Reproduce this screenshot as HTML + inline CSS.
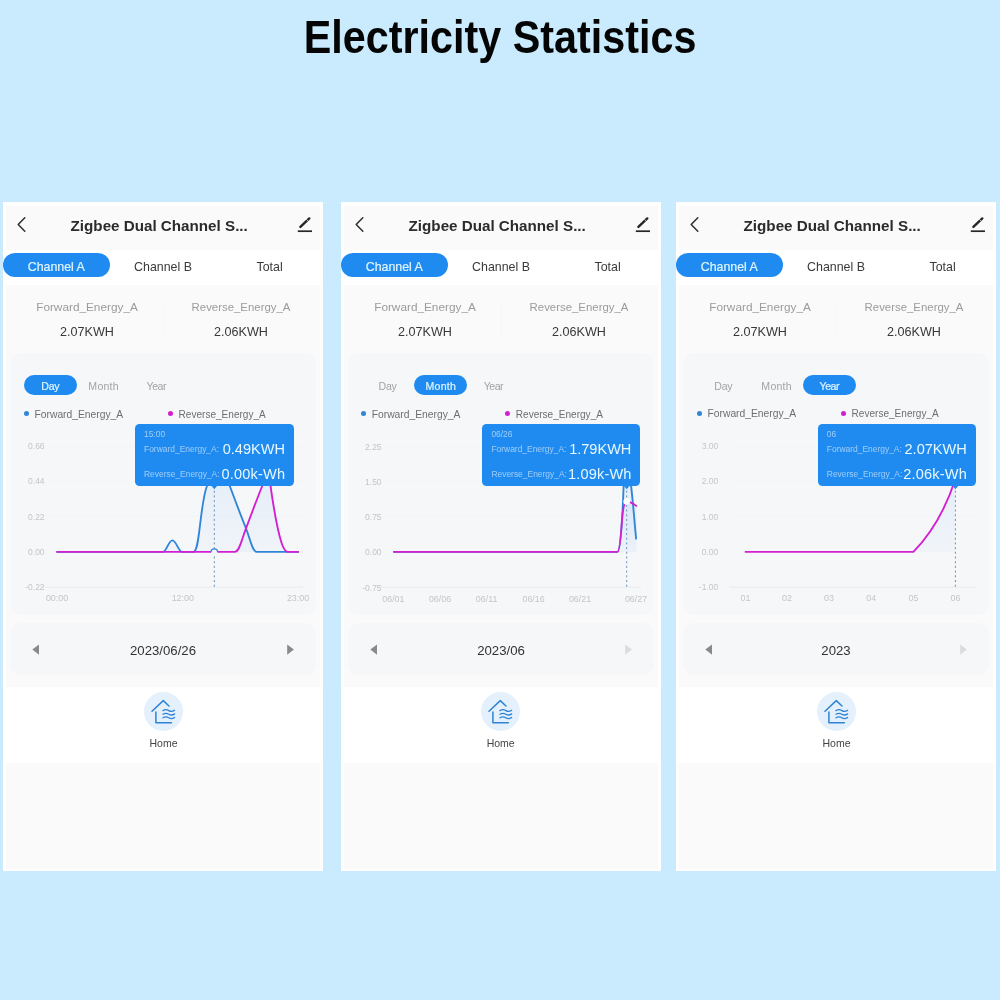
<!DOCTYPE html><html lang="en"><head><meta charset="utf-8"><title>Electricity Statistics</title><style>
*{margin:0;padding:0;box-sizing:border-box}
html,body{width:1000px;height:1000px;overflow:hidden}
body{background:#c9ebfd;font-family:"Liberation Sans",sans-serif;position:relative}
.h1{position:absolute;left:0;top:12px;width:1000px;height:52px;line-height:52px;text-align:center;font-weight:bold;font-size:45.3px;color:#050505;white-space:nowrap;transform:scaleX(.912);transform-origin:500.5px 0;letter-spacing:0}
.panel{position:absolute;top:202px;width:320px;height:669px;background:#fafafa;overflow:hidden;box-shadow:0 0 0 0 #fff}
.panel *{position:absolute;white-space:nowrap}
.hdr{left:0;top:0;width:320px;height:669px;border:solid #fefefe;border-width:4px 3px 2px 3px}
.title{left:0;top:11.5px;width:312.4px;height:24px;line-height:24px;text-align:center;font-weight:bold;font-size:15.2px;color:#2b2b2b}
.tabs{left:0;top:47.5px;width:320px;height:35.5px;background:#fff}
.tab{top:3px;height:24.5px;line-height:28.3px;width:106.6px;text-align:center;font-size:12.4px;color:#3a3a3a;border-radius:12.3px}
.tab.on{background:#1f8bf0;color:#dff5ff;-webkit-text-stroke:.2px #dff5ff}
.lbl{width:154px;height:14px;line-height:14px;text-align:center;font-size:11.8px;color:#9b9b9b;top:97.7px}
.val{width:154px;height:16px;line-height:16px;text-align:center;font-size:12.6px;color:#383838;top:122px}
.divd{left:160px;top:102px;width:1px;height:32px;background:#f6f6f6}
.card{left:7px;width:306px;background:#f6f7f9;border-radius:11px}
.chart{top:151px;height:262px}
.seg{top:173px;height:20px;line-height:22.4px;width:53px;text-align:center;font-size:10.6px;color:#a3a3a3;border-radius:10px}
.seg.on{background:#1f8bf0;color:#dff5ff;-webkit-text-stroke:.2px #dff5ff}
.dot{width:5px;height:5px;border-radius:50%;top:209.2px}
.leg{top:205.6px;height:14px;line-height:14px;font-size:10.3px;color:#6e6e6e}
.tip{top:222px;width:159px;height:62px;background:#1f8bf0;border-radius:4.5px}
.tip i{font-style:normal;left:9px;font-size:8.45px;color:rgba(255,255,255,.56);height:12px;line-height:12px}
.tip b{font-weight:normal;right:9px;font-size:14.55px;color:#e8f8ff;height:18px;line-height:18px}
.date{top:421px;height:52px}
.dtx{left:0;width:320px;top:439.5px;height:18px;line-height:18px;text-align:center;font-size:13.2px;color:#333}
.bot{left:0;top:485px;width:320px;height:76px;background:#fff}
.hc{left:141px;top:490.3px;width:39px;height:39px;border-radius:50%;background:#e4f0fb}
.hm{left:0;width:321px;top:534px;height:14px;line-height:14px;text-align:center;font-size:10.5px;color:#444}
svg{left:0;top:0;overflow:visible}
svg text{font-family:"Liberation Sans",sans-serif}
</style></head><body><h1 class="h1">Electricity Statistics</h1><div class="panel" style="left:3px"><div class="hdr"></div><svg width="320" height="60"><path d="M21.8 15.8 L15.2 22.5 L21.8 29.2" fill="none" stroke="#2e2e2e" stroke-width="1.5" stroke-linecap="round" stroke-linejoin="round"/><path d="M297.4 24.9 L306.3 16.4" fill="none" stroke="#262626" stroke-width="2.4" stroke-linecap="round"/><path d="M303.3 17.2 L305.4 19.4" fill="none" stroke="#f4f4f4" stroke-width=".7"/><path d="M294.8 29.2 H309" stroke="#262626" stroke-width="1.7" fill="none"/></svg><div class="title">Zigbee Dual Channel S...</div><div class="tabs"><div class="tab on" style="left:0.0px">Channel A</div><div class="tab" style="left:106.7px">Channel B</div><div class="tab" style="left:213.3px">Total</div></div><div class="lbl" style="left:7px">Forward_Energy_A</div><div class="val" style="left:7px">2.07KWH</div><div class="lbl" style="left:161px;font-size:11.4px">Reverse_Energy_A</div><div class="val" style="left:161px">2.06KWH</div><div class="divd"></div><div class="card chart"></div><div class="seg on" style="left:20.85px;letter-spacing:-0.3px">Day</div><div class="seg" style="left:74.1px;letter-spacing:0.2px">Month</div><div class="seg" style="left:126.75px;letter-spacing:-0.5px">Year</div><div class="dot" style="left:20.5px;margin-top:0px;background:#3085d6"></div><div class="leg" style="left:31.5px;margin-top:0px">Forward_Energy_A</div><div class="dot" style="left:165.1px;margin-top:0px;background:#d21fd2"></div><div class="leg" style="left:175.6px;margin-top:0px;font-size:10.05px">Reverse_Energy_A</div><svg width="320" height="669"><defs><linearGradient id="g0" x1="0" y1="0" x2="0" y2="1"><stop offset="0" stop-color="#4a9af0" stop-opacity=".10"/><stop offset="1" stop-color="#4a9af0" stop-opacity=".03"/></linearGradient></defs><path d="M46 244 H300" stroke="#f1f2f4" stroke-width="1" stroke-dasharray="2 2" fill="none"/><path d="M46 279.2 H300" stroke="#f1f2f4" stroke-width="1" stroke-dasharray="2 2" fill="none"/><path d="M46 314.5 H300" stroke="#f1f2f4" stroke-width="1" stroke-dasharray="2 2" fill="none"/><path d="M46 349.8 H300" stroke="#f1f2f4" stroke-width="1" stroke-dasharray="2 2" fill="none"/><path d="M38 385.2 H300" stroke="#e9e9eb" stroke-width="1" fill="none"/><text x="41.6" y="247" text-anchor="end" font-size="8.5" fill="#c5c5c5">0.66</text><text x="41.6" y="282.2" text-anchor="end" font-size="8.5" fill="#c5c5c5">0.44</text><text x="41.6" y="317.5" text-anchor="end" font-size="8.5" fill="#c5c5c5">0.22</text><text x="41.6" y="352.8" text-anchor="end" font-size="8.5" fill="#c5c5c5">0.00</text><text x="41.6" y="388.2" text-anchor="end" font-size="8.5" fill="#c5c5c5">-0.22</text><text x="54" y="399.2" text-anchor="middle" font-size="8.9" fill="#c5c5c5">00:00</text><text x="179.8" y="399.2" text-anchor="middle" font-size="8.9" fill="#c5c5c5">12:00</text><text x="295" y="399.2" text-anchor="middle" font-size="8.9" fill="#c5c5c5">23:00</text><path d="M53.4 349.9 H160 C163.5 349.9 165.5 338.3 169.4 338.3 C173.3 338.3 175.5 349.9 179 349.9 H190.2 C194.5 349.9 195.6 334 197.9 316 C200 299.5 201.6 290 203.8 284.5 C206 278 208.5 270 213 270 C219 270 223.5 275 227 284.5 C232 298 238 314 243 326.4 C247.5 338 249.5 349.9 253.6 349.9 H296 V349.9 H53.4Z" fill="url(#g0)" stroke="none"/><path d="M53.4 349.9 H231.8 C236.5 349.9 238.5 338 243 326.4 C248 313 254 297 259 284.5 C261.5 278 263.5 274 265 274 C266.5 274 267 279 267.6 284.5 C270.5 305 275 330 278.6 341 C280.8 347.5 282.2 349.9 284.8 349.9 H296 V349.9 H53.4Z" fill="url(#g0)" stroke="none"/><path d="M211.3 284 V385.5" stroke="#6a8fb8" stroke-width="1" stroke-dasharray="2 2.7" fill="none"/><path d="M53.4 349.9 H160 C163.5 349.9 165.5 338.3 169.4 338.3 C173.3 338.3 175.5 349.9 179 349.9 H190.2 C194.5 349.9 195.6 334 197.9 316 C200 299.5 201.6 290 203.8 284.5 C206 278 208.5 270 213 270 C219 270 223.5 275 227 284.5 C232 298 238 314 243 326.4 C247.5 338 249.5 349.9 253.6 349.9 H296" fill="none" stroke="#3085d6" stroke-width="1.85" stroke-linejoin="round"/><path d="M53.4 349.9 H231.8 C236.5 349.9 238.5 338 243 326.4 C248 313 254 297 259 284.5 C261.5 278 263.5 274 265 274 C266.5 274 267 279 267.6 284.5 C270.5 305 275 330 278.6 341 C280.8 347.5 282.2 349.9 284.8 349.9 H296" fill="none" stroke="#d21fd2" stroke-width="1.85" stroke-linejoin="round"/><circle cx="211.3" cy="350.2" r="3.3" fill="#f3f7fb" stroke="none"/><path d="M208 350.2 A3.3 3.3 0 0 1 214.6 350.2" fill="none" stroke="#3085d6" stroke-width="1.3"/><path d="M208.6 284 L211.3 287.2 L214 284Z" fill="#1f8bf0"/></svg><div class="tip" style="left:132px;width:159px"><i style="top:3.9px">15:00</i><i style="top:18.8px">Forward_Energy_A:</i><b style="top:16.1px">0.49KWH</b><i style="top:43.6px">Reverse_Energy_A:</i><b style="top:41px;letter-spacing:.18px;right:8.8px">0.00k-Wh</b></div><div class="card date"></div><svg width="320" height="669"><path d="M36 442.5 L29.3 447.6 L36 452.7Z" fill="#8a8a8a"/><path d="M284.2 442.5 L290.9 447.6 L284.2 452.7Z" fill="#8a8a8a"/></svg><div class="dtx">2023/06/26</div><div class="bot"></div><div class="hc" style="margin-left:0px"></div><svg width="320" height="669" fill="none" stroke="#2f84d4" stroke-linecap="round" stroke-linejoin="round" style="margin-left:0px"><path d="M149 509.2 L160.3 498.6 L166 504" stroke-width="1.5"/><path d="M152.9 510 V520.8 H168.4" stroke-width="1.5"/><path d="M160 508.6 q2.9 -1.8 5.8 0 t5.8 -0.3" stroke-width="1.3"/><path d="M160 512.2 q2.9 -1.8 5.8 0 t5.8 -0.3" stroke-width="1.3"/><path d="M160 515.8 q2.9 -1.8 5.8 0 t5.8 -0.3" stroke-width="1.3"/></svg><div class="hm" style="margin-left:0px">Home</div></div><div class="panel" style="left:341px"><div class="hdr"></div><svg width="320" height="60"><path d="M21.8 15.8 L15.2 22.5 L21.8 29.2" fill="none" stroke="#2e2e2e" stroke-width="1.5" stroke-linecap="round" stroke-linejoin="round"/><path d="M297.4 24.9 L306.3 16.4" fill="none" stroke="#262626" stroke-width="2.4" stroke-linecap="round"/><path d="M303.3 17.2 L305.4 19.4" fill="none" stroke="#f4f4f4" stroke-width=".7"/><path d="M294.8 29.2 H309" stroke="#262626" stroke-width="1.7" fill="none"/></svg><div class="title">Zigbee Dual Channel S...</div><div class="tabs"><div class="tab on" style="left:0.0px">Channel A</div><div class="tab" style="left:106.7px">Channel B</div><div class="tab" style="left:213.3px">Total</div></div><div class="lbl" style="left:7px">Forward_Energy_A</div><div class="val" style="left:7px">2.07KWH</div><div class="lbl" style="left:161px;font-size:11.4px">Reverse_Energy_A</div><div class="val" style="left:161px">2.06KWH</div><div class="divd"></div><div class="card chart"></div><div class="seg" style="left:20.05px;letter-spacing:-0.3px">Day</div><div class="seg on" style="left:73.3px;letter-spacing:0.2px">Month</div><div class="seg" style="left:125.95px;letter-spacing:-0.5px">Year</div><div class="dot" style="left:19.7px;margin-top:0px;background:#3085d6"></div><div class="leg" style="left:30.7px;margin-top:0px">Forward_Energy_A</div><div class="dot" style="left:164.3px;margin-top:0px;background:#d21fd2"></div><div class="leg" style="left:174.8px;margin-top:0px;font-size:10.05px">Reverse_Energy_A</div><svg width="320" height="669"><defs><linearGradient id="g1" x1="0" y1="0" x2="0" y2="1"><stop offset="0" stop-color="#4a9af0" stop-opacity=".10"/><stop offset="1" stop-color="#4a9af0" stop-opacity=".03"/></linearGradient></defs><path d="M44.4 244 H300" stroke="#f1f2f4" stroke-width="1" stroke-dasharray="2 2" fill="none"/><path d="M44.4 279.2 H300" stroke="#f1f2f4" stroke-width="1" stroke-dasharray="2 2" fill="none"/><path d="M44.4 314.5 H300" stroke="#f1f2f4" stroke-width="1" stroke-dasharray="2 2" fill="none"/><path d="M44.4 349.8 H300" stroke="#f1f2f4" stroke-width="1" stroke-dasharray="2 2" fill="none"/><path d="M36.4 385.2 H300" stroke="#e9e9eb" stroke-width="1" fill="none"/><text x="40.6" y="247.5" text-anchor="end" font-size="8.5" fill="#c5c5c5">2.25</text><text x="40.6" y="282.7" text-anchor="end" font-size="8.5" fill="#c5c5c5">1.50</text><text x="40.6" y="318" text-anchor="end" font-size="8.5" fill="#c5c5c5">0.75</text><text x="40.6" y="353.3" text-anchor="end" font-size="8.5" fill="#c5c5c5">0.00</text><text x="40.6" y="388.7" text-anchor="end" font-size="8.5" fill="#c5c5c5">-0.75</text><text x="52.4" y="399.7" text-anchor="middle" font-size="8.9" fill="#c5c5c5">06/01</text><text x="99" y="399.7" text-anchor="middle" font-size="8.9" fill="#c5c5c5">06/06</text><text x="145.6" y="399.7" text-anchor="middle" font-size="8.9" fill="#c5c5c5">06/11</text><text x="192.6" y="399.7" text-anchor="middle" font-size="8.9" fill="#c5c5c5">06/16</text><text x="239" y="399.7" text-anchor="middle" font-size="8.9" fill="#c5c5c5">06/21</text><text x="295" y="399.7" text-anchor="middle" font-size="8.9" fill="#c5c5c5">06/27</text><path d="M52.3 349.9 H276.4 C278.6 349.9 279.9 335 281 318 C281.8 306 282.2 296 282.6 284.5 C283.2 274 284.3 266 285.7 266 C290 266 292.5 312 295.2 337.3 V349.9 H52.3Z" fill="url(#g1)" stroke="none"/><path d="M52.3 349.9 H276.4 C278.6 349.9 279.9 335 281 318 C281.8 307 283.3 300 285.7 299.6 C289 299.6 292.5 301.6 295.9 304.4 V349.9 H52.3Z" fill="url(#g1)" stroke="none"/><path d="M285.7 284 V385.5" stroke="#6a8fb8" stroke-width="1" stroke-dasharray="2 2.7" fill="none"/><path d="M52.3 349.9 H276.4 C278.6 349.9 279.9 335 281 318 C281.8 306 282.2 296 282.6 284.5 C283.2 274 284.3 266 285.7 266 C290 266 292.5 312 295.2 337.3" fill="none" stroke="#3085d6" stroke-width="1.85" stroke-linejoin="round"/><path d="M52.3 349.9 H276.4 C278.6 349.9 279.9 335 281 318 C281.8 307 283.3 300 285.7 299.6 C289 299.6 292.5 301.6 295.9 304.4" fill="none" stroke="#d21fd2" stroke-width="1.85" stroke-linejoin="round"/><circle cx="285.7" cy="299.5" r="3.3" fill="#fbfdff" stroke="none"/><path d="M283 284 L285.7 287.2 L288.4 284Z" fill="#1f8bf0"/></svg><div class="tip" style="left:141.4px;width:158px"><i style="top:3.9px">06/26</i><i style="top:18.8px">Forward_Energy_A:</i><b style="top:16.1px">1.79KWH</b><i style="top:43.6px">Reverse_Energy_A:</i><b style="top:41px;letter-spacing:.18px;right:8.8px">1.09k-Wh</b></div><div class="card date"></div><svg width="320" height="669"><path d="M36 442.5 L29.3 447.6 L36 452.7Z" fill="#8a8a8a"/><path d="M284.2 442.5 L290.9 447.6 L284.2 452.7Z" fill="#dcdcdc"/></svg><div class="dtx">2023/06</div><div class="bot"></div><div class="hc" style="margin-left:-0.8px"></div><svg width="320" height="669" fill="none" stroke="#2f84d4" stroke-linecap="round" stroke-linejoin="round" style="margin-left:-0.8px"><path d="M149 509.2 L160.3 498.6 L166 504" stroke-width="1.5"/><path d="M152.9 510 V520.8 H168.4" stroke-width="1.5"/><path d="M160 508.6 q2.9 -1.8 5.8 0 t5.8 -0.3" stroke-width="1.3"/><path d="M160 512.2 q2.9 -1.8 5.8 0 t5.8 -0.3" stroke-width="1.3"/><path d="M160 515.8 q2.9 -1.8 5.8 0 t5.8 -0.3" stroke-width="1.3"/></svg><div class="hm" style="margin-left:-0.8px">Home</div></div><div class="panel" style="left:676px"><div class="hdr"></div><svg width="320" height="60"><path d="M21.8 15.8 L15.2 22.5 L21.8 29.2" fill="none" stroke="#2e2e2e" stroke-width="1.5" stroke-linecap="round" stroke-linejoin="round"/><path d="M297.4 24.9 L306.3 16.4" fill="none" stroke="#262626" stroke-width="2.4" stroke-linecap="round"/><path d="M303.3 17.2 L305.4 19.4" fill="none" stroke="#f4f4f4" stroke-width=".7"/><path d="M294.8 29.2 H309" stroke="#262626" stroke-width="1.7" fill="none"/></svg><div class="title">Zigbee Dual Channel S...</div><div class="tabs"><div class="tab on" style="left:0.0px">Channel A</div><div class="tab" style="left:106.7px">Channel B</div><div class="tab" style="left:213.3px">Total</div></div><div class="lbl" style="left:7px">Forward_Energy_A</div><div class="val" style="left:7px">2.07KWH</div><div class="lbl" style="left:161px;font-size:11.4px">Reverse_Energy_A</div><div class="val" style="left:161px">2.06KWH</div><div class="divd"></div><div class="card chart"></div><div class="seg" style="left:20.85px;letter-spacing:-0.3px">Day</div><div class="seg" style="left:74.1px;letter-spacing:0.2px">Month</div><div class="seg on" style="left:126.75px;letter-spacing:-0.5px">Year</div><div class="dot" style="left:20.5px;margin-top:-0.7px;background:#3085d6"></div><div class="leg" style="left:31.5px;margin-top:-0.7px">Forward_Energy_A</div><div class="dot" style="left:165.1px;margin-top:-0.7px;background:#d21fd2"></div><div class="leg" style="left:175.6px;margin-top:-0.7px;font-size:10.05px">Reverse_Energy_A</div><svg width="320" height="669"><defs><linearGradient id="g2" x1="0" y1="0" x2="0" y2="1"><stop offset="0" stop-color="#4a9af0" stop-opacity=".10"/><stop offset="1" stop-color="#4a9af0" stop-opacity=".03"/></linearGradient></defs><path d="M61.4 244 H300" stroke="#f1f2f4" stroke-width="1" stroke-dasharray="2 2" fill="none"/><path d="M61.4 279.2 H300" stroke="#f1f2f4" stroke-width="1" stroke-dasharray="2 2" fill="none"/><path d="M61.4 314.5 H300" stroke="#f1f2f4" stroke-width="1" stroke-dasharray="2 2" fill="none"/><path d="M61.4 349.8 H300" stroke="#f1f2f4" stroke-width="1" stroke-dasharray="2 2" fill="none"/><path d="M53.4 385.2 H300" stroke="#e9e9eb" stroke-width="1" fill="none"/><text x="42.2" y="247" text-anchor="end" font-size="8.5" fill="#c5c5c5">3.00</text><text x="42.2" y="282.2" text-anchor="end" font-size="8.5" fill="#c5c5c5">2.00</text><text x="42.2" y="317.5" text-anchor="end" font-size="8.5" fill="#c5c5c5">1.00</text><text x="42.2" y="352.8" text-anchor="end" font-size="8.5" fill="#c5c5c5">0.00</text><text x="42.2" y="388.2" text-anchor="end" font-size="8.5" fill="#c5c5c5">-1.00</text><text x="69.4" y="399.2" text-anchor="middle" font-size="8.9" fill="#c5c5c5">01</text><text x="111" y="399.2" text-anchor="middle" font-size="8.9" fill="#c5c5c5">02</text><text x="153" y="399.2" text-anchor="middle" font-size="8.9" fill="#c5c5c5">03</text><text x="195.2" y="399.2" text-anchor="middle" font-size="8.9" fill="#c5c5c5">04</text><text x="237.4" y="399.2" text-anchor="middle" font-size="8.9" fill="#c5c5c5">05</text><text x="279.4" y="399.2" text-anchor="middle" font-size="8.9" fill="#c5c5c5">06</text><path d="M68.8 349.9 H237.4 C252 335 268 312 279.4 277 V349.9 H68.8Z" fill="url(#g2)" stroke="none"/><path d="M279.4 284 V385.5" stroke="#6a8fb8" stroke-width="1" stroke-dasharray="2 2.7" fill="none"/><path d="M68.8 349.9 H237.4 C252 335 268 312 279.4 277" fill="none" stroke="#d21fd2" stroke-width="1.85" stroke-linejoin="round"/><path d="M276.7 284 L279.4 287.2 L282.1 284Z" fill="#1f8bf0"/></svg><div class="tip" style="left:141.8px;width:158px"><i style="top:3.9px">06</i><i style="top:18.8px">Forward_Energy_A:</i><b style="top:16.1px">2.07KWH</b><i style="top:43.6px">Reverse_Energy_A:</i><b style="top:41px;letter-spacing:.18px;right:8.8px">2.06k-Wh</b></div><div class="card date"></div><svg width="320" height="669"><path d="M36 442.5 L29.3 447.6 L36 452.7Z" fill="#8a8a8a"/><path d="M284.2 442.5 L290.9 447.6 L284.2 452.7Z" fill="#dcdcdc"/></svg><div class="dtx">2023</div><div class="bot"></div><div class="hc" style="margin-left:0px"></div><svg width="320" height="669" fill="none" stroke="#2f84d4" stroke-linecap="round" stroke-linejoin="round" style="margin-left:0px"><path d="M149 509.2 L160.3 498.6 L166 504" stroke-width="1.5"/><path d="M152.9 510 V520.8 H168.4" stroke-width="1.5"/><path d="M160 508.6 q2.9 -1.8 5.8 0 t5.8 -0.3" stroke-width="1.3"/><path d="M160 512.2 q2.9 -1.8 5.8 0 t5.8 -0.3" stroke-width="1.3"/><path d="M160 515.8 q2.9 -1.8 5.8 0 t5.8 -0.3" stroke-width="1.3"/></svg><div class="hm" style="margin-left:0px">Home</div></div></body></html>
